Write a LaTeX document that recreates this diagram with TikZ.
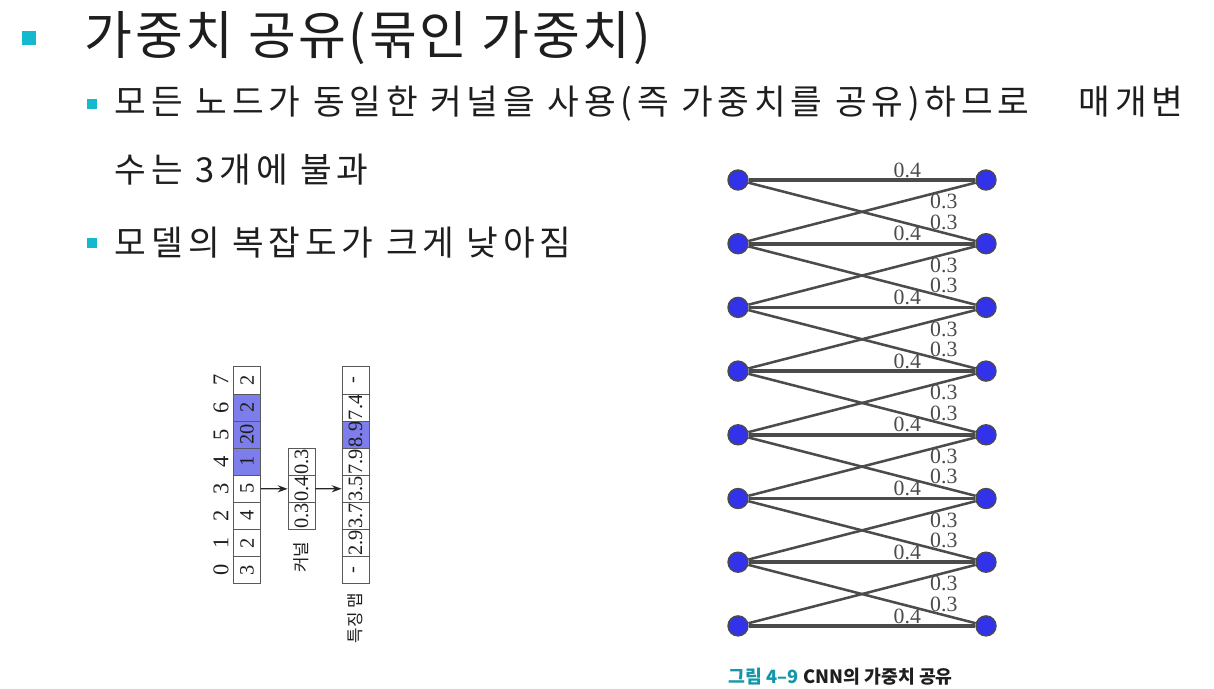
\documentclass[tikz,border=0pt]{standalone}
\usepackage{fontspec}
\setmainfont{Liberation Serif}
\newfontfamily\kr{Noto Sans CJK KR}
\newfontfamily\krwide[LetterSpace=14]{Noto Sans CJK KR}
\newfontfamily\krtitle[LetterSpace=5]{Noto Sans CJK KR}
\usepackage{tikz}
\usetikzlibrary{positioning, arrows.meta}

\definecolor{bulletteal}{RGB}{20,185,205}
\definecolor{cellblue}{RGB}{125,125,235}
\definecolor{unitblue}{RGB}{50,50,235}
\definecolor{edgegray}{RGB}{75,75,75}
\definecolor{capteal}{RGB}{20,150,170}
\definecolor{txt}{RGB}{30,30,30}

\begin{document}
\begin{tikzpicture}[x=0.025cm, y=-0.025cm, text=txt,
		cell/.style={draw=gray!70!black, minimum size=0.68cm, inner sep=0pt, rotate=90, font=\fontsize{14.5}{14.5}\selectfont},
		idx/.style={rotate=90, font=\fontsize{16}{16}\selectfont},
		unit/.style={circle, draw=edgegray, line width=1pt, fill=unitblue, minimum size=0.5cm, inner sep=0pt},
		wedge/.style={edgegray, line width=2.6pt},
		dedge/.style={edgegray, line width=1.8pt},
		wlabel/.style={inner sep=0.5pt, font=\fontsize{15.5}{15.5}\selectfont},
		body/.style={anchor=west, font=\krwide\fontsize{24.5}{24.5}\selectfont}]
	\useasboundingbox (0,0) rectangle (1214,689);
	
	% title and bullets
	\node[fill=bulletteal, minimum size=0.33cm, inner sep=0pt] (b0) at (29,38) {};
	\node[anchor=west, font=\krtitle\fontsize{37}{37}\selectfont] (title) at (80,38) {가중치 공유(묶인 가중치)};
	\node[fill=bulletteal, minimum size=0.23cm, inner sep=0pt] (b1) at (92,104) {};
	\node[body] (line1) at (110,104) {\makebox[26.7cm][l]{모든 노드가 동일한 커널을 사용(즉 가중치를 공유)하므로\hfill 매개변}};
	\node[body] (line2) at (110,170) {수는 3개에 불과};
	\node[fill=bulletteal, minimum size=0.23cm, inner sep=0pt] (b2) at (92,243) {};
	\node[body] (line3) at (110,243) {모델의 복잡도가 크게 낮아짐};
	
	% input, kernel and feature map
	\foreach \v/\c [count=\i from 0] in {3/white,2/white,4/white,5/white,1/cellblue,20/cellblue,2/cellblue,2/white}
	{
		\node[cell, fill=\c] (in\i) at (247,{570-27.1*\i}) {\v};
		\node[idx] (n\i) at (221,{570-27.1*\i}) {\i};
	}
	\foreach \v/\c [count=\i from 0] in {-/white,2.9/white,3.7/white,3.5/white,7.9/white,8.9/cellblue,7.4/white,-/white}
		\node[cell, fill=\c] (f\i) at (355.5,{570-27.1*\i}) {\v};
	\node[cell, fill=white] (k0) at (301.5,516) {0.3};
	\node[cell, fill=white] (k1) at (301.5,488.9) {0.4};
	\node[cell, fill=white] (k2) at (301.5,461.8) {0.3};
	\node[rotate=90, font=\kr\fontsize{12}{12}\selectfont] (klabel) at (301.5,557) {커널};
	\node[rotate=90, font=\kr\fontsize{12}{12}\selectfont] (flabel) at (355.5,618) {특징 맵};
	\draw[-{Stealth[length=7pt,width=5pt]}, gray!30!black, line width=0.9pt] (in3) -- (k1);
	\draw[-{Stealth[length=7pt,width=5pt]}, gray!30!black, line width=0.9pt] (k1) -- (f3);
	
	% shared weights
	\foreach \i in {1,...,8}
	{
		\node[unit] (l\i) at (738,{180+63.7*(\i-1)}) {};
		\node[unit] (r\i) at (986,{180+63.7*(\i-1)}) {};
		\draw[wedge] (l\i) -- node[wlabel, pos=0.7, above] {0.4} (r\i);
	}
	\foreach \i [evaluate=\i as \j using int(\i+1)] in {1,...,7}
	{
		\draw[dedge] (l\i) -- node[wlabel, pos=0.86, above=1pt] {0.3} (r\j);
		\draw[dedge] (l\j) -- node[wlabel, pos=0.86, below=1pt] {0.3} (r\i);
	}
	
	\node[anchor=west, font=\kr\bfseries\fontsize{13}{13}\selectfont] (caption) at (724,677) {\textcolor{capteal}{그림 4–9} CNN의 가중치 공유};
\end{tikzpicture}
\end{document}
